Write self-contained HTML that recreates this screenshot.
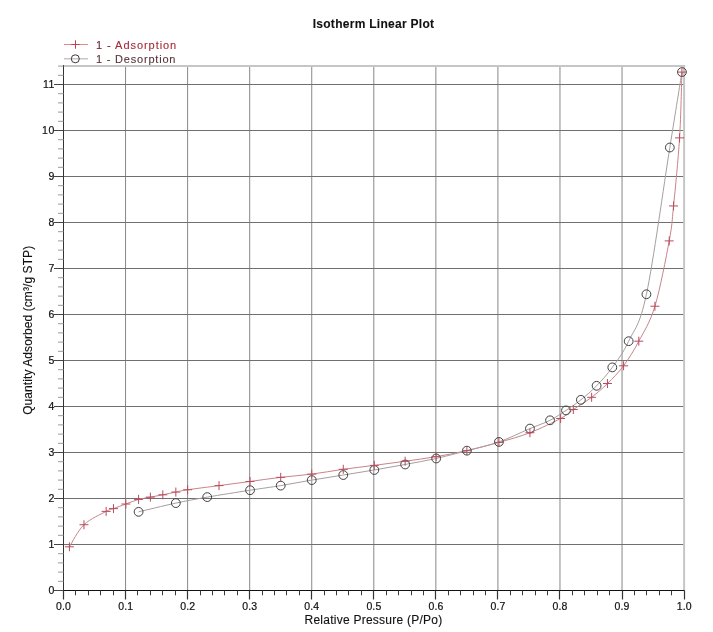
<!DOCTYPE html>
<html><head><meta charset="utf-8"><title>Isotherm Linear Plot</title>
<style>
html,body{margin:0;padding:0;background:#fff;}
body{width:713px;height:632px;overflow:hidden;}
svg{display:block;}
text{font-family:"Liberation Sans",Arial,sans-serif;fill:#111;stroke:#111;stroke-width:0.3px;}
.tl{font-size:10.5px;letter-spacing:0.6px;stroke-width:0.2px;}
.tx{letter-spacing:0.15px;}
.lg{font-size:11px;letter-spacing:0.8px;stroke-width:0.1px !important;}
.title{font-size:12px;font-weight:bold;letter-spacing:0.28px;stroke-width:0.1px;}
.ax{font-size:12px;letter-spacing:0.25px;stroke-width:0.12px;}
</style></head>
<body>
<svg width="713" height="632" viewBox="0 0 713 632">
<rect width="713" height="632" fill="#fff"/>
<line x1="125.56" y1="66.0" x2="125.56" y2="590.5" stroke="#888888" stroke-width="1"/>
<line x1="187.62" y1="66.0" x2="187.62" y2="590.5" stroke="#888888" stroke-width="1"/>
<line x1="249.68" y1="66.0" x2="249.68" y2="590.5" stroke="#888888" stroke-width="1"/>
<line x1="311.74" y1="66.0" x2="311.74" y2="590.5" stroke="#888888" stroke-width="1"/>
<line x1="373.80" y1="66.0" x2="373.80" y2="590.5" stroke="#888888" stroke-width="1"/>
<line x1="435.86" y1="66.0" x2="435.86" y2="590.5" stroke="#888888" stroke-width="1"/>
<line x1="497.92" y1="66.0" x2="497.92" y2="590.5" stroke="#888888" stroke-width="1"/>
<line x1="559.98" y1="66.0" x2="559.98" y2="590.5" stroke="#888888" stroke-width="1"/>
<line x1="622.04" y1="66.0" x2="622.04" y2="590.5" stroke="#888888" stroke-width="1"/>
<line x1="63.5" y1="544.5" x2="684.1" y2="544.5" stroke="#707070" stroke-width="1"/>
<line x1="63.5" y1="498.5" x2="684.1" y2="498.5" stroke="#707070" stroke-width="1"/>
<line x1="63.5" y1="452.5" x2="684.1" y2="452.5" stroke="#707070" stroke-width="1"/>
<line x1="63.5" y1="406.5" x2="684.1" y2="406.5" stroke="#707070" stroke-width="1"/>
<line x1="63.5" y1="360.5" x2="684.1" y2="360.5" stroke="#707070" stroke-width="1"/>
<line x1="63.5" y1="314.5" x2="684.1" y2="314.5" stroke="#707070" stroke-width="1"/>
<line x1="63.5" y1="268.5" x2="684.1" y2="268.5" stroke="#707070" stroke-width="1"/>
<line x1="63.5" y1="222.5" x2="684.1" y2="222.5" stroke="#707070" stroke-width="1"/>
<line x1="63.5" y1="176.5" x2="684.1" y2="176.5" stroke="#707070" stroke-width="1"/>
<line x1="63.5" y1="130.5" x2="684.1" y2="130.5" stroke="#707070" stroke-width="1"/>
<line x1="63.5" y1="84.5" x2="684.1" y2="84.5" stroke="#707070" stroke-width="1"/>
<line x1="63.5" y1="66.0" x2="685.1" y2="66.0" stroke="#c6c6c6" stroke-width="2"/>
<line x1="684.1" y1="65.0" x2="684.1" y2="590.5" stroke="#c6c6c6" stroke-width="2"/>
<line x1="63.5" y1="65.0" x2="63.5" y2="591.0" stroke="#333" stroke-width="1"/>
<line x1="63.0" y1="590.5" x2="684.6" y2="590.5" stroke="#111" stroke-width="1"/>
<line x1="63.5" y1="590.5" x2="63.5" y2="599.5" stroke="#333" stroke-width="1.2"/>
<line x1="75.5" y1="590.5" x2="75.5" y2="595.3" stroke="#3a3a3a" stroke-width="1"/>
<line x1="88.5" y1="590.5" x2="88.5" y2="595.3" stroke="#3a3a3a" stroke-width="1"/>
<line x1="100.5" y1="590.5" x2="100.5" y2="595.3" stroke="#3a3a3a" stroke-width="1"/>
<line x1="113.5" y1="590.5" x2="113.5" y2="595.3" stroke="#3a3a3a" stroke-width="1"/>
<line x1="125.5" y1="590.5" x2="125.5" y2="599.5" stroke="#333" stroke-width="1.2"/>
<line x1="137.5" y1="590.5" x2="137.5" y2="595.3" stroke="#3a3a3a" stroke-width="1"/>
<line x1="150.5" y1="590.5" x2="150.5" y2="595.3" stroke="#3a3a3a" stroke-width="1"/>
<line x1="162.5" y1="590.5" x2="162.5" y2="595.3" stroke="#3a3a3a" stroke-width="1"/>
<line x1="175.5" y1="590.5" x2="175.5" y2="595.3" stroke="#3a3a3a" stroke-width="1"/>
<line x1="187.5" y1="590.5" x2="187.5" y2="599.5" stroke="#333" stroke-width="1.2"/>
<line x1="200.5" y1="590.5" x2="200.5" y2="595.3" stroke="#3a3a3a" stroke-width="1"/>
<line x1="212.5" y1="590.5" x2="212.5" y2="595.3" stroke="#3a3a3a" stroke-width="1"/>
<line x1="224.5" y1="590.5" x2="224.5" y2="595.3" stroke="#3a3a3a" stroke-width="1"/>
<line x1="237.5" y1="590.5" x2="237.5" y2="595.3" stroke="#3a3a3a" stroke-width="1"/>
<line x1="249.5" y1="590.5" x2="249.5" y2="599.5" stroke="#333" stroke-width="1.2"/>
<line x1="262.5" y1="590.5" x2="262.5" y2="595.3" stroke="#3a3a3a" stroke-width="1"/>
<line x1="274.5" y1="590.5" x2="274.5" y2="595.3" stroke="#3a3a3a" stroke-width="1"/>
<line x1="286.5" y1="590.5" x2="286.5" y2="595.3" stroke="#3a3a3a" stroke-width="1"/>
<line x1="299.5" y1="590.5" x2="299.5" y2="595.3" stroke="#3a3a3a" stroke-width="1"/>
<line x1="311.5" y1="590.5" x2="311.5" y2="599.5" stroke="#333" stroke-width="1.2"/>
<line x1="324.5" y1="590.5" x2="324.5" y2="595.3" stroke="#3a3a3a" stroke-width="1"/>
<line x1="336.5" y1="590.5" x2="336.5" y2="595.3" stroke="#3a3a3a" stroke-width="1"/>
<line x1="348.5" y1="590.5" x2="348.5" y2="595.3" stroke="#3a3a3a" stroke-width="1"/>
<line x1="361.5" y1="590.5" x2="361.5" y2="595.3" stroke="#3a3a3a" stroke-width="1"/>
<line x1="373.5" y1="590.5" x2="373.5" y2="599.5" stroke="#333" stroke-width="1.2"/>
<line x1="386.5" y1="590.5" x2="386.5" y2="595.3" stroke="#3a3a3a" stroke-width="1"/>
<line x1="398.5" y1="590.5" x2="398.5" y2="595.3" stroke="#3a3a3a" stroke-width="1"/>
<line x1="411.5" y1="590.5" x2="411.5" y2="595.3" stroke="#3a3a3a" stroke-width="1"/>
<line x1="423.5" y1="590.5" x2="423.5" y2="595.3" stroke="#3a3a3a" stroke-width="1"/>
<line x1="435.5" y1="590.5" x2="435.5" y2="599.5" stroke="#333" stroke-width="1.2"/>
<line x1="448.5" y1="590.5" x2="448.5" y2="595.3" stroke="#3a3a3a" stroke-width="1"/>
<line x1="460.5" y1="590.5" x2="460.5" y2="595.3" stroke="#3a3a3a" stroke-width="1"/>
<line x1="473.5" y1="590.5" x2="473.5" y2="595.3" stroke="#3a3a3a" stroke-width="1"/>
<line x1="485.5" y1="590.5" x2="485.5" y2="595.3" stroke="#3a3a3a" stroke-width="1"/>
<line x1="497.5" y1="590.5" x2="497.5" y2="599.5" stroke="#333" stroke-width="1.2"/>
<line x1="510.5" y1="590.5" x2="510.5" y2="595.3" stroke="#3a3a3a" stroke-width="1"/>
<line x1="522.5" y1="590.5" x2="522.5" y2="595.3" stroke="#3a3a3a" stroke-width="1"/>
<line x1="535.5" y1="590.5" x2="535.5" y2="595.3" stroke="#3a3a3a" stroke-width="1"/>
<line x1="547.5" y1="590.5" x2="547.5" y2="595.3" stroke="#3a3a3a" stroke-width="1"/>
<line x1="559.5" y1="590.5" x2="559.5" y2="599.5" stroke="#333" stroke-width="1.2"/>
<line x1="572.5" y1="590.5" x2="572.5" y2="595.3" stroke="#3a3a3a" stroke-width="1"/>
<line x1="584.5" y1="590.5" x2="584.5" y2="595.3" stroke="#3a3a3a" stroke-width="1"/>
<line x1="597.5" y1="590.5" x2="597.5" y2="595.3" stroke="#3a3a3a" stroke-width="1"/>
<line x1="609.5" y1="590.5" x2="609.5" y2="595.3" stroke="#3a3a3a" stroke-width="1"/>
<line x1="622.5" y1="590.5" x2="622.5" y2="599.5" stroke="#333" stroke-width="1.2"/>
<line x1="634.5" y1="590.5" x2="634.5" y2="595.3" stroke="#3a3a3a" stroke-width="1"/>
<line x1="646.5" y1="590.5" x2="646.5" y2="595.3" stroke="#3a3a3a" stroke-width="1"/>
<line x1="659.5" y1="590.5" x2="659.5" y2="595.3" stroke="#3a3a3a" stroke-width="1"/>
<line x1="671.5" y1="590.5" x2="671.5" y2="595.3" stroke="#3a3a3a" stroke-width="1"/>
<line x1="684.5" y1="590.5" x2="684.5" y2="599.5" stroke="#333" stroke-width="1.2"/>
<line x1="54.0" y1="590.5" x2="63.5" y2="590.5" stroke="#444" stroke-width="1"/>
<line x1="58.0" y1="581.3" x2="63.5" y2="581.3" stroke="#9a9a9a" stroke-width="1"/>
<line x1="58.0" y1="572.1" x2="63.5" y2="572.1" stroke="#9a9a9a" stroke-width="1"/>
<line x1="58.0" y1="562.9" x2="63.5" y2="562.9" stroke="#9a9a9a" stroke-width="1"/>
<line x1="58.0" y1="553.7" x2="63.5" y2="553.7" stroke="#9a9a9a" stroke-width="1"/>
<line x1="54.0" y1="544.5" x2="63.5" y2="544.5" stroke="#444" stroke-width="1"/>
<line x1="58.0" y1="535.3" x2="63.5" y2="535.3" stroke="#9a9a9a" stroke-width="1"/>
<line x1="58.0" y1="526.1" x2="63.5" y2="526.1" stroke="#9a9a9a" stroke-width="1"/>
<line x1="58.0" y1="516.9" x2="63.5" y2="516.9" stroke="#9a9a9a" stroke-width="1"/>
<line x1="58.0" y1="507.7" x2="63.5" y2="507.7" stroke="#9a9a9a" stroke-width="1"/>
<line x1="54.0" y1="498.5" x2="63.5" y2="498.5" stroke="#444" stroke-width="1"/>
<line x1="58.0" y1="489.3" x2="63.5" y2="489.3" stroke="#9a9a9a" stroke-width="1"/>
<line x1="58.0" y1="480.09999999999997" x2="63.5" y2="480.09999999999997" stroke="#9a9a9a" stroke-width="1"/>
<line x1="58.0" y1="470.9" x2="63.5" y2="470.9" stroke="#9a9a9a" stroke-width="1"/>
<line x1="58.0" y1="461.7" x2="63.5" y2="461.7" stroke="#9a9a9a" stroke-width="1"/>
<line x1="54.0" y1="452.5" x2="63.5" y2="452.5" stroke="#444" stroke-width="1"/>
<line x1="58.0" y1="443.29999999999995" x2="63.5" y2="443.29999999999995" stroke="#9a9a9a" stroke-width="1"/>
<line x1="58.0" y1="434.1" x2="63.5" y2="434.1" stroke="#9a9a9a" stroke-width="1"/>
<line x1="58.0" y1="424.9" x2="63.5" y2="424.9" stroke="#9a9a9a" stroke-width="1"/>
<line x1="58.0" y1="415.7" x2="63.5" y2="415.7" stroke="#9a9a9a" stroke-width="1"/>
<line x1="54.0" y1="406.5" x2="63.5" y2="406.5" stroke="#444" stroke-width="1"/>
<line x1="58.0" y1="397.29999999999995" x2="63.5" y2="397.29999999999995" stroke="#9a9a9a" stroke-width="1"/>
<line x1="58.0" y1="388.1" x2="63.5" y2="388.1" stroke="#9a9a9a" stroke-width="1"/>
<line x1="58.0" y1="378.9" x2="63.5" y2="378.9" stroke="#9a9a9a" stroke-width="1"/>
<line x1="58.0" y1="369.69999999999993" x2="63.5" y2="369.69999999999993" stroke="#9a9a9a" stroke-width="1"/>
<line x1="54.0" y1="360.5" x2="63.5" y2="360.5" stroke="#444" stroke-width="1"/>
<line x1="58.0" y1="351.29999999999995" x2="63.5" y2="351.29999999999995" stroke="#9a9a9a" stroke-width="1"/>
<line x1="58.0" y1="342.1" x2="63.5" y2="342.1" stroke="#9a9a9a" stroke-width="1"/>
<line x1="58.0" y1="332.9" x2="63.5" y2="332.9" stroke="#9a9a9a" stroke-width="1"/>
<line x1="58.0" y1="323.7" x2="63.5" y2="323.7" stroke="#9a9a9a" stroke-width="1"/>
<line x1="54.0" y1="314.5" x2="63.5" y2="314.5" stroke="#444" stroke-width="1"/>
<line x1="58.0" y1="305.3" x2="63.5" y2="305.3" stroke="#9a9a9a" stroke-width="1"/>
<line x1="58.0" y1="296.09999999999997" x2="63.5" y2="296.09999999999997" stroke="#9a9a9a" stroke-width="1"/>
<line x1="58.0" y1="286.9" x2="63.5" y2="286.9" stroke="#9a9a9a" stroke-width="1"/>
<line x1="58.0" y1="277.7" x2="63.5" y2="277.7" stroke="#9a9a9a" stroke-width="1"/>
<line x1="54.0" y1="268.5" x2="63.5" y2="268.5" stroke="#444" stroke-width="1"/>
<line x1="58.0" y1="259.3" x2="63.5" y2="259.3" stroke="#9a9a9a" stroke-width="1"/>
<line x1="58.0" y1="250.09999999999997" x2="63.5" y2="250.09999999999997" stroke="#9a9a9a" stroke-width="1"/>
<line x1="58.0" y1="240.89999999999998" x2="63.5" y2="240.89999999999998" stroke="#9a9a9a" stroke-width="1"/>
<line x1="58.0" y1="231.7" x2="63.5" y2="231.7" stroke="#9a9a9a" stroke-width="1"/>
<line x1="54.0" y1="222.5" x2="63.5" y2="222.5" stroke="#444" stroke-width="1"/>
<line x1="58.0" y1="213.29999999999995" x2="63.5" y2="213.29999999999995" stroke="#9a9a9a" stroke-width="1"/>
<line x1="58.0" y1="204.09999999999997" x2="63.5" y2="204.09999999999997" stroke="#9a9a9a" stroke-width="1"/>
<line x1="58.0" y1="194.90000000000003" x2="63.5" y2="194.90000000000003" stroke="#9a9a9a" stroke-width="1"/>
<line x1="58.0" y1="185.7" x2="63.5" y2="185.7" stroke="#9a9a9a" stroke-width="1"/>
<line x1="54.0" y1="176.5" x2="63.5" y2="176.5" stroke="#444" stroke-width="1"/>
<line x1="58.0" y1="167.29999999999995" x2="63.5" y2="167.29999999999995" stroke="#9a9a9a" stroke-width="1"/>
<line x1="58.0" y1="158.09999999999997" x2="63.5" y2="158.09999999999997" stroke="#9a9a9a" stroke-width="1"/>
<line x1="58.0" y1="148.89999999999992" x2="63.5" y2="148.89999999999992" stroke="#9a9a9a" stroke-width="1"/>
<line x1="58.0" y1="139.7" x2="63.5" y2="139.7" stroke="#9a9a9a" stroke-width="1"/>
<line x1="54.0" y1="130.5" x2="63.5" y2="130.5" stroke="#444" stroke-width="1"/>
<line x1="58.0" y1="121.29999999999995" x2="63.5" y2="121.29999999999995" stroke="#9a9a9a" stroke-width="1"/>
<line x1="58.0" y1="112.09999999999997" x2="63.5" y2="112.09999999999997" stroke="#9a9a9a" stroke-width="1"/>
<line x1="58.0" y1="102.89999999999992" x2="63.5" y2="102.89999999999992" stroke="#9a9a9a" stroke-width="1"/>
<line x1="58.0" y1="93.69999999999999" x2="63.5" y2="93.69999999999999" stroke="#9a9a9a" stroke-width="1"/>
<line x1="54.0" y1="84.5" x2="63.5" y2="84.5" stroke="#444" stroke-width="1"/>
<line x1="58.0" y1="75.29999999999995" x2="63.5" y2="75.29999999999995" stroke="#9a9a9a" stroke-width="1"/>
<line x1="58.0" y1="66.10000000000002" x2="63.5" y2="66.10000000000002" stroke="#9a9a9a" stroke-width="1"/>
<text x="63.6" y="609.6" class="tl tx" text-anchor="middle">0.0</text>
<text x="125.7" y="609.6" class="tl tx" text-anchor="middle">0.1</text>
<text x="187.7" y="609.6" class="tl tx" text-anchor="middle">0.2</text>
<text x="249.8" y="609.6" class="tl tx" text-anchor="middle">0.3</text>
<text x="311.8" y="609.6" class="tl tx" text-anchor="middle">0.4</text>
<text x="373.9" y="609.6" class="tl tx" text-anchor="middle">0.5</text>
<text x="436.0" y="609.6" class="tl tx" text-anchor="middle">0.6</text>
<text x="498.0" y="609.6" class="tl tx" text-anchor="middle">0.7</text>
<text x="560.1" y="609.6" class="tl tx" text-anchor="middle">0.8</text>
<text x="622.1" y="609.6" class="tl tx" text-anchor="middle">0.9</text>
<text x="684.2" y="609.6" class="tl tx" text-anchor="middle">1.0</text>
<text x="55.0" y="594.1" class="tl" text-anchor="end">0</text>
<text x="55.0" y="548.1" class="tl" text-anchor="end">1</text>
<text x="55.0" y="502.1" class="tl" text-anchor="end">2</text>
<text x="55.0" y="456.1" class="tl" text-anchor="end">3</text>
<text x="55.0" y="410.1" class="tl" text-anchor="end">4</text>
<text x="55.0" y="364.1" class="tl" text-anchor="end">5</text>
<text x="55.0" y="318.1" class="tl" text-anchor="end">6</text>
<text x="55.0" y="272.1" class="tl" text-anchor="end">7</text>
<text x="55.0" y="226.1" class="tl" text-anchor="end">8</text>
<text x="55.0" y="180.1" class="tl" text-anchor="end">9</text>
<text x="55.0" y="134.1" class="tl" text-anchor="end">10</text>
<text x="55.0" y="88.1" class="tl" text-anchor="end">11</text>
<path d="M69.40 546.80 C71.83 543.12 77.86 530.62 83.98 524.72 C90.10 518.82 101.22 514.06 106.14 511.38 C111.05 508.70 110.17 509.85 113.46 508.62 C116.75 507.39 121.68 505.55 125.87 504.02 C130.06 502.49 134.51 500.57 138.59 499.42 C142.68 498.27 146.35 497.89 150.38 497.12 C154.42 496.35 158.56 495.66 162.80 494.82 C167.04 493.98 171.69 492.90 175.83 492.06 C179.97 491.22 180.42 490.83 187.62 489.76 C194.82 488.69 208.62 487.00 219.02 485.62 C229.43 484.24 239.77 482.86 250.05 481.48 C260.33 480.10 270.43 478.57 280.71 477.34 C290.99 476.11 301.31 475.46 311.74 474.12 C322.17 472.78 332.84 470.75 343.27 469.29 C353.69 467.83 363.98 466.72 374.30 465.38 C384.61 464.04 394.83 462.70 405.14 461.24 C415.45 459.78 425.88 458.40 436.17 456.64 C446.46 454.88 456.43 453.04 466.89 450.66 C477.35 448.28 488.40 445.37 498.91 442.38 C509.42 439.39 519.66 436.71 529.94 432.72 C540.22 428.73 553.37 422.33 560.60 418.46 C567.83 414.59 568.15 413.02 573.32 409.49 C578.49 405.96 585.94 401.63 591.63 397.30 C597.32 392.97 602.13 388.75 607.46 383.50 C612.78 378.25 618.37 372.84 623.59 365.79 C628.81 358.74 633.57 351.11 638.80 341.18 C644.02 331.25 649.86 322.93 654.93 306.22 C660.00 289.51 666.10 257.61 669.21 240.90 C672.31 224.19 671.82 223.11 673.55 205.94 C675.28 188.77 678.17 160.17 679.57 137.86 C680.97 115.55 681.53 83.04 681.93 72.08" fill="none" stroke="#c8848c" stroke-width="1"/>
<path d="M681.93 72.08 C679.91 84.65 675.74 110.49 669.83 147.52 C663.91 184.55 653.29 261.98 646.43 294.26 C639.57 326.54 634.37 328.99 628.68 341.18 C622.99 353.37 617.64 359.96 612.30 367.40 C606.95 374.84 601.83 380.39 596.60 385.80 C591.36 391.20 585.99 395.73 580.89 399.83 C575.79 403.93 571.14 407.00 566.00 410.41 C560.86 413.82 556.06 417.27 550.05 420.30 C544.04 423.33 538.47 424.98 529.94 428.58 C521.42 432.18 509.42 438.24 498.91 441.92 C488.40 445.60 477.35 447.90 466.89 450.66 C456.43 453.42 446.46 456.18 436.17 458.48 C425.88 460.78 415.45 462.54 405.14 464.46 C394.83 466.38 384.61 468.22 374.30 469.98 C363.98 471.74 353.69 473.35 343.27 475.04 C332.84 476.73 322.17 478.34 311.74 480.10 C301.31 481.86 290.99 483.93 280.71 485.62 C270.43 487.31 262.30 488.30 250.05 490.22 C237.81 492.14 219.60 494.97 207.23 497.12 C194.86 499.27 187.27 500.65 175.83 503.10 C164.39 505.55 144.80 510.38 138.59 511.84" fill="none" stroke="#a89e9e" stroke-width="1"/>
<circle cx="681.93" cy="72.08" r="4.4" fill="none" stroke="#404040" stroke-width="1"/>
<circle cx="669.83" cy="147.52" r="4.4" fill="none" stroke="#404040" stroke-width="1"/>
<circle cx="646.43" cy="294.26" r="4.4" fill="none" stroke="#404040" stroke-width="1"/>
<circle cx="628.68" cy="341.18" r="4.4" fill="none" stroke="#404040" stroke-width="1"/>
<circle cx="612.30" cy="367.40" r="4.4" fill="none" stroke="#404040" stroke-width="1"/>
<circle cx="596.60" cy="385.80" r="4.4" fill="none" stroke="#404040" stroke-width="1"/>
<circle cx="580.89" cy="399.83" r="4.4" fill="none" stroke="#404040" stroke-width="1"/>
<circle cx="566.00" cy="410.41" r="4.4" fill="none" stroke="#404040" stroke-width="1"/>
<circle cx="550.05" cy="420.30" r="4.4" fill="none" stroke="#404040" stroke-width="1"/>
<circle cx="529.94" cy="428.58" r="4.4" fill="none" stroke="#404040" stroke-width="1"/>
<circle cx="498.91" cy="441.92" r="4.4" fill="none" stroke="#404040" stroke-width="1"/>
<circle cx="466.89" cy="450.66" r="4.4" fill="none" stroke="#404040" stroke-width="1"/>
<circle cx="436.17" cy="458.48" r="4.4" fill="none" stroke="#404040" stroke-width="1"/>
<circle cx="405.14" cy="464.46" r="4.4" fill="none" stroke="#404040" stroke-width="1"/>
<circle cx="374.30" cy="469.98" r="4.4" fill="none" stroke="#404040" stroke-width="1"/>
<circle cx="343.27" cy="475.04" r="4.4" fill="none" stroke="#404040" stroke-width="1"/>
<circle cx="311.74" cy="480.10" r="4.4" fill="none" stroke="#404040" stroke-width="1"/>
<circle cx="280.71" cy="485.62" r="4.4" fill="none" stroke="#404040" stroke-width="1"/>
<circle cx="250.05" cy="490.22" r="4.4" fill="none" stroke="#404040" stroke-width="1"/>
<circle cx="207.23" cy="497.12" r="4.4" fill="none" stroke="#404040" stroke-width="1"/>
<circle cx="175.83" cy="503.10" r="4.4" fill="none" stroke="#404040" stroke-width="1"/>
<circle cx="138.59" cy="511.84" r="4.4" fill="none" stroke="#404040" stroke-width="1"/>
<path d="M64.90 546.80H73.90M69.40 542.30V551.30" stroke="#b84c5c" stroke-width="1"/>
<path d="M79.48 524.72H88.48M83.98 520.22V529.22" stroke="#b84c5c" stroke-width="1"/>
<path d="M101.64 511.38H110.64M106.14 506.88V515.88" stroke="#b84c5c" stroke-width="1"/>
<path d="M108.96 508.62H117.96M113.46 504.12V513.12" stroke="#b84c5c" stroke-width="1"/>
<path d="M121.37 504.02H130.37M125.87 499.52V508.52" stroke="#b84c5c" stroke-width="1"/>
<path d="M134.09 499.42H143.09M138.59 494.92V503.92" stroke="#b84c5c" stroke-width="1"/>
<path d="M145.88 497.12H154.88M150.38 492.62V501.62" stroke="#b84c5c" stroke-width="1"/>
<path d="M158.30 494.82H167.30M162.80 490.32V499.32" stroke="#b84c5c" stroke-width="1"/>
<path d="M171.33 492.06H180.33M175.83 487.56V496.56" stroke="#b84c5c" stroke-width="1"/>
<path d="M183.12 489.76H192.12M187.62 485.26V494.26" stroke="#b84c5c" stroke-width="1"/>
<path d="M214.52 485.62H223.52M219.02 481.12V490.12" stroke="#b84c5c" stroke-width="1"/>
<path d="M245.55 481.48H254.55M250.05 476.98V485.98" stroke="#b84c5c" stroke-width="1"/>
<path d="M276.21 477.34H285.21M280.71 472.84V481.84" stroke="#b84c5c" stroke-width="1"/>
<path d="M307.24 474.12H316.24M311.74 469.62V478.62" stroke="#b84c5c" stroke-width="1"/>
<path d="M338.77 469.29H347.77M343.27 464.79V473.79" stroke="#b84c5c" stroke-width="1"/>
<path d="M369.80 465.38H378.80M374.30 460.88V469.88" stroke="#b84c5c" stroke-width="1"/>
<path d="M400.64 461.24H409.64M405.14 456.74V465.74" stroke="#b84c5c" stroke-width="1"/>
<path d="M431.67 456.64H440.67M436.17 452.14V461.14" stroke="#b84c5c" stroke-width="1"/>
<path d="M462.39 450.66H471.39M466.89 446.16V455.16" stroke="#b84c5c" stroke-width="1"/>
<path d="M494.41 442.38H503.41M498.91 437.88V446.88" stroke="#b84c5c" stroke-width="1"/>
<path d="M525.44 432.72H534.44M529.94 428.22V437.22" stroke="#b84c5c" stroke-width="1"/>
<path d="M556.10 418.46H565.10M560.60 413.96V422.96" stroke="#b84c5c" stroke-width="1"/>
<path d="M568.82 409.49H577.82M573.32 404.99V413.99" stroke="#b84c5c" stroke-width="1"/>
<path d="M587.13 397.30H596.13M591.63 392.80V401.80" stroke="#b84c5c" stroke-width="1"/>
<path d="M602.96 383.50H611.96M607.46 379.00V388.00" stroke="#b84c5c" stroke-width="1"/>
<path d="M619.09 365.79H628.09M623.59 361.29V370.29" stroke="#b84c5c" stroke-width="1"/>
<path d="M634.30 341.18H643.30M638.80 336.68V345.68" stroke="#b84c5c" stroke-width="1"/>
<path d="M650.43 306.22H659.43M654.93 301.72V310.72" stroke="#b84c5c" stroke-width="1"/>
<path d="M664.71 240.90H673.71M669.21 236.40V245.40" stroke="#b84c5c" stroke-width="1"/>
<path d="M669.05 205.94H678.05M673.55 201.44V210.44" stroke="#b84c5c" stroke-width="1"/>
<path d="M675.07 137.86H684.07M679.57 133.36V142.36" stroke="#b84c5c" stroke-width="1"/>
<path d="M677.43 72.08H686.43M681.93 67.58V76.58" stroke="#b84c5c" stroke-width="1"/>
<line x1="64" y1="44.5" x2="88" y2="44.5" stroke="#e08a90" stroke-width="1"/>
<path d="M71.2 44.5H79.6M75.5 40.3V48.7" stroke="#c04050" stroke-width="1"/>
<line x1="64" y1="58.8" x2="88" y2="58.8" stroke="#bdb5b5" stroke-width="1.2"/>
<circle cx="75.3" cy="58.8" r="4" fill="none" stroke="#3a3a3a" stroke-width="1"/>
<text x="96" y="48.7" class="lg" style="letter-spacing:0.95px"><tspan fill="#6a2430" stroke="#6a2430">1 - </tspan><tspan fill="#a82838" stroke="#a82838">Adsorption</tspan></text>
<text x="96" y="62.7" class="lg" style="fill:#583238;stroke:#583238">1 - Desorption</text>
<text x="373.5" y="27.9" class="title" text-anchor="middle">Isotherm Linear Plot</text>
<text x="373.5" y="623.8" class="ax" text-anchor="middle">Relative Pressure (P/Po)</text>
<text transform="translate(32.2 330.3) rotate(-90)" class="ax" style="letter-spacing:0.08px" text-anchor="middle">Quantity Adsorbed (cm³/g STP)</text>
</svg>
</body></html>
